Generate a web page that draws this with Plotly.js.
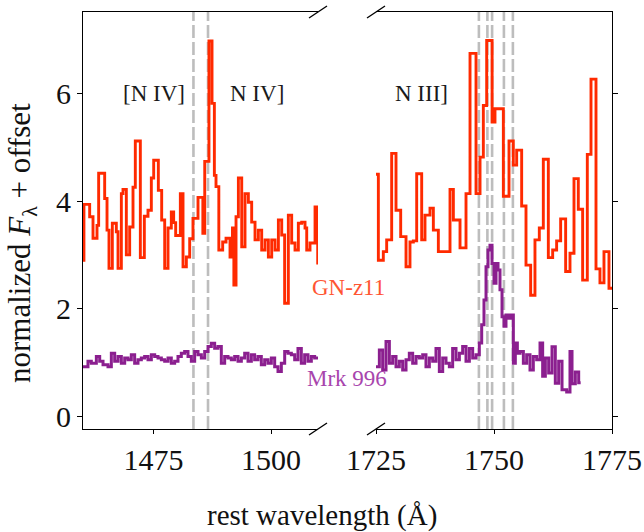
<!DOCTYPE html>
<html>
<head>
<meta charset="utf-8">
<script src="https://cdn.plot.ly/plotly-3.0.1.min.js"></script>
<style>html,body{margin:0;padding:0;background:#fff;}#chart{width:644px;height:532px;}</style>
</head>
<body>
<div id="chart"></div>
<script>
// GN-z11 (left window) step edges and values
const gnLeftX = [1460.0,1460.2,1461.42,1462.13,1462.98,1463.33,1464.61,1465.11,1465.53,1466.24,1467.09,1467.45,1468.16,1468.51,1469.22,1469.93,1470.64,1471.13,1472.2,1473.05,1473.83,1474.54,1475.04,1476.03,1476.74,1477.38,1478.09,1478.79,1479.29,1479.72,1480.71,1481.28,1481.99,1482.7,1483.4,1484.47,1485.5,1485.9,1486.8,1487.45,1487.95,1488.3,1488.9,1489.72,1490.43,1491.28,1491.8,1492.1,1492.56,1493.06,1493.77,1494.47,1495.18,1495.89,1496.6,1497.31,1498.02,1498.73,1499.44,1500.15,1500.86,1501.57,1502.28,1502.9,1503.69,1504.4,1505.11,1505.82,1506.53,1507.24,1507.6,1508.3,1509.37,1509.94];
const gnLeftY = [2.90,3.94,3.71,3.31,3.55,4.52,4.05,3.46,2.75,3.59,3.43,2.75,4.14,4.22,3.00,3.52,4.26,5.12,2.95,3.72,3.83,4.43,4.76,4.20,3.65,2.75,3.50,3.80,3.60,3.36,4.14,2.78,2.96,3.30,3.68,4.07,3.40,4.74,6.98,5.82,4.48,4.27,3.09,3.24,3.31,2.96,3.50,2.44,3.71,4.43,3.15,4.14,3.98,3.61,3.28,3.46,3.09,3.28,2.96,3.28,3.09,3.65,3.37,2.10,3.74,3.22,3.09,3.59,3.61,3.50,3.09,3.22,3.89,2.85];
const gnLeftEnd = 1510.0;

// GN-z11 (right window)
const gnRightX = [1724.8,1725.5,1726.55,1727.26,1728.32,1729.24,1730.23,1731.36,1732.2,1732.91,1733.62,1734.68,1735.38,1736.44,1737.15,1738.21,1740.68,1741.39,1742.8,1744.07,1744.92,1746.19,1747.04,1747.74,1748.45,1749.6,1750.21,1751.98,1753.18,1754.09,1754.8,1755.86,1756.78,1757.77,1758.68,1759.6,1760.45,1761.51,1762.43,1763.27,1764.12,1765.18,1766.1,1766.95,1767.86,1768.78,1769.77,1770.55,1771.61,1772.45,1773.3,1774.36];
const gnRightY = [4.50,2.90,3.06,3.28,4.89,3.83,3.34,2.78,3.24,3.26,4.51,3.28,3.74,3.87,3.46,3.06,4.22,3.65,3.13,4.14,6.75,4.14,4.82,5.78,6.99,5.47,5.72,4.09,5.12,4.67,4.95,3.91,2.81,2.25,3.28,3.50,4.78,2.95,3.09,3.26,3.67,2.69,3.03,4.42,3.85,2.53,4.87,6.27,2.74,2.48,3.06,2.38];
const gnRightEnd = 1775.0;

// Mrk 996 (left window)
const mrkLeftX = [1460.0,1461.06,1461.77,1462.84,1463.55,1464.26,1465.32,1466.03,1466.74,1467.45,1468.16,1468.87,1469.57,1470.28,1470.99,1471.7,1472.41,1473.12,1473.83,1474.54,1475.25,1475.96,1476.67,1477.38,1478.09,1478.79,1479.5,1480.21,1480.92,1481.63,1482.34,1483.05,1483.76,1484.47,1485.18,1485.89,1486.6,1487.3,1488.01,1488.72,1489.43,1490.14,1490.85,1491.56,1492.27,1492.98,1493.69,1494.4,1495.11,1495.82,1496.52,1497.23,1497.94,1498.65,1499.36,1500.07,1500.78,1501.49,1502.2,1502.91,1503.62,1504.33,1505.04,1505.74,1506.45,1507.16,1507.87,1508.58,1509.29];
const mrkLeftY = [0.92,1.02,0.985,1.11,1.02,0.955,0.92,1.17,1.02,1.11,0.985,1.08,1.05,1.14,0.985,1.05,1.08,1.11,1.05,1.14,1.11,1.08,1.05,1.02,1.08,0.985,1.02,1.11,1.17,1.20,1.11,1.02,1.20,1.14,1.08,1.20,1.295,1.357,1.264,1.295,0.985,1.11,1.08,1.05,1.11,1.02,1.08,1.17,1.02,1.14,1.05,1.11,0.955,1.05,0.985,1.08,0.92,0.83,0.985,1.20,1.17,1.14,1.05,1.26,0.985,1.14,1.02,1.11,1.08];
const mrkLeftEnd = 1510.0;

// Mrk 996 (right window)
const mrkRightX = [1725.0,1725.71,1726.41,1727.12,1727.83,1728.53,1729.24,1729.94,1730.65,1731.36,1732.06,1732.77,1733.48,1734.18,1734.89,1735.59,1736.3,1737.01,1737.71,1738.42,1739.13,1739.83,1740.54,1741.24,1741.95,1742.66,1743.36,1744.07,1744.78,1745.48,1746.19,1746.89,1747.39,1747.88,1748.31,1748.73,1749.15,1749.58,1750.0,1750.43,1750.85,1751.27,1751.7,1752.12,1752.54,1753.11,1753.67,1754.1,1754.52,1754.95,1755.51,1756.22,1756.92,1757.63,1758.33,1759.04,1759.75,1760.31,1760.88,1761.58,1762.29,1762.99,1763.7,1764.41,1765.4,1766.1,1766.53,1767.23,1767.94];
const mrkRightY = [0.92,1.23,0.86,1.39,0.985,1.11,0.92,1.02,0.86,1.05,1.17,0.985,1.11,1.08,1.14,0.92,1.08,1.02,1.26,0.83,1.08,0.985,0.92,1.26,1.05,1.17,1.295,1.02,1.26,1.08,1.14,1.36,1.70,2.16,2.78,3.09,3.18,2.84,2.47,2.84,2.72,2.35,1.85,1.67,1.88,1.82,1.88,0.985,1.36,1.17,1.20,0.985,1.14,0.86,1.11,1.05,1.36,0.74,1.08,0.80,1.29,0.61,1.02,0.49,0.45,1.20,0.60,0.82,0.62];
const mrkRightEnd = 1768.36;

// line positions
const nivLines = [1483.5, 1486.6];
const niiiLines = [1746.8, 1748.6, 1749.6, 1752.1, 1754.0];

const xTicksLeft = [1475, 1500];
const xTicksRight = [1725, 1750, 1775];
const yTicks = [0, 2, 4, 6];

const RED = '#ff2a00';
const PURPLE = '#8b1f8f';
const FONT = 'Liberation Serif, Times New Roman, serif';

function ext(xs, ys, end) {
  return {x: xs.concat([end]), y: ys.concat([ys[ys.length - 1]])};
}

const gl = ext(gnLeftX, gnLeftY, gnLeftEnd);
const gr = ext(gnRightX, gnRightY, gnRightEnd);
const ml = ext(mrkLeftX, mrkLeftY, mrkLeftEnd);
const mr = ext(mrkRightX, mrkRightY, mrkRightEnd);

const traces = [
  {x: ml.x, y: ml.y, xaxis: 'x', yaxis: 'y', mode: 'lines', line: {shape: 'hv', color: PURPLE, width: 3}, hoverinfo: 'skip'},
  {x: mr.x, y: mr.y, xaxis: 'x2', yaxis: 'y2', mode: 'lines', line: {shape: 'hv', color: PURPLE, width: 3}, hoverinfo: 'skip'},
  {x: gl.x, y: gl.y, xaxis: 'x', yaxis: 'y', mode: 'lines', line: {shape: 'hv', color: RED, width: 2.9}, hoverinfo: 'skip'},
  {x: gr.x, y: gr.y, xaxis: 'x2', yaxis: 'y2', mode: 'lines', line: {shape: 'hv', color: RED, width: 2.9}, hoverinfo: 'skip'}
];

const D1 = (318 - 83) / 529;
const D2 = (376 - 83) / 529;

const shapes = [];
nivLines.forEach(v => shapes.push({type: 'line', xref: 'x', yref: 'paper', x0: v, x1: v, y0: 0, y1: 1, layer: 'below', line: {color: '#bdbdbd', width: 2.6, dash: '13px,4px'}}));
niiiLines.forEach(v => shapes.push({type: 'line', xref: 'x2', yref: 'paper', x0: v, x1: v, y0: 0, y1: 1, layer: 'below', line: {color: '#bdbdbd', width: 2.6, dash: '13px,4px'}}));
[[D1, 1], [D1, 0], [D2, 1], [D2, 0]].forEach(([ax, ay]) => shapes.push({
  type: 'line', xref: 'paper', yref: 'paper', xsizemode: 'pixel', ysizemode: 'pixel',
  xanchor: ax, yanchor: ay, x0: -9, x1: 9, y0: -6, y1: 6, line: {color: '#000', width: 1.3}
}));

const axisCommon = {
  showgrid: false, zeroline: false, showline: true, linecolor: '#000', linewidth: 1,
  ticks: 'outside', tickcolor: '#000', tickwidth: 1,
  tickfont: {family: FONT, size: 30, color: '#111'}
};

const layout = {
  width: 644, height: 532,
  margin: {l: 83, r: 32, t: 12, b: 103, pad: 0},
  paper_bgcolor: '#fff', plot_bgcolor: 'rgba(0,0,0,0)',
  showlegend: false,
  font: {family: FONT, color: '#111'},
  xaxis: Object.assign({}, axisCommon, {domain: [0, D1], range: [1460, 1510], tickvals: xTicksLeft, ticktext: xTicksLeft.map(String), ticklen: 4, mirror: true, anchor: 'y'}),
  xaxis2: Object.assign({}, axisCommon, {domain: [D2, 1], range: [1725, 1775], tickvals: xTicksRight, ticktext: xTicksRight.map(String), ticklen: 4, mirror: true, anchor: 'y2'}),
  yaxis: Object.assign({}, axisCommon, {range: [-0.24, 7.52], tickvals: yTicks, ticktext: yTicks.map(String), ticklen: 5, anchor: 'x', side: 'left'}),
  yaxis2: Object.assign({}, axisCommon, {range: [-0.24, 7.52], tickvals: yTicks, showticklabels: false, ticklen: 5, anchor: 'x2', side: 'right'}),
  shapes: shapes,
  annotations: [
    {xref: 'x', yref: 'y', x: 1475.1, y: 6.0, text: '[N IV]', showarrow: false, font: {family: FONT, size: 23, color: '#1a1a1a'}},
    {xref: 'x', yref: 'y', x: 1497.0, y: 6.0, text: 'N IV]', showarrow: false, font: {family: FONT, size: 23, color: '#1a1a1a'}},
    {xref: 'x2', yref: 'y2', x: 1734.7, y: 6.0, text: 'N III]', showarrow: false, font: {family: FONT, size: 23, color: '#1a1a1a'}},
    {xref: 'paper', yref: 'paper', x: (348 - 83) / 529, y: (429.3 - 288) / 417.6, text: 'GN-z11', showarrow: false, font: {family: FONT, size: 23, color: '#ff5533'}},
    {xref: 'paper', yref: 'paper', x: (346.5 - 83) / 529, y: (429.3 - 393) / 417.6, text: 'Mrk 996', showarrow: false, font: {family: FONT, size: 23, color: '#a845ad'}},
    {xref: 'paper', yref: 'paper', x: (322 - 83) / 529, y: (429.3 - 516) / 417.6, text: 'rest wavelength (Å)', showarrow: false, xanchor: 'center', yanchor: 'middle', font: {family: FONT, size: 29, color: '#111'}},
    {xref: 'paper', yref: 'paper', x: (22 - 83) / 529, y: (429.3 - 243) / 417.6, text: 'normalized <i>F</i><sub>λ</sub> + offset', textangle: -90, showarrow: false, xanchor: 'center', yanchor: 'middle', font: {family: FONT, size: 31, color: '#111'}}
  ]
};

Plotly.newPlot('chart', traces, layout, {displayModeBar: false, staticPlot: true});
</script>
</body>
</html>
